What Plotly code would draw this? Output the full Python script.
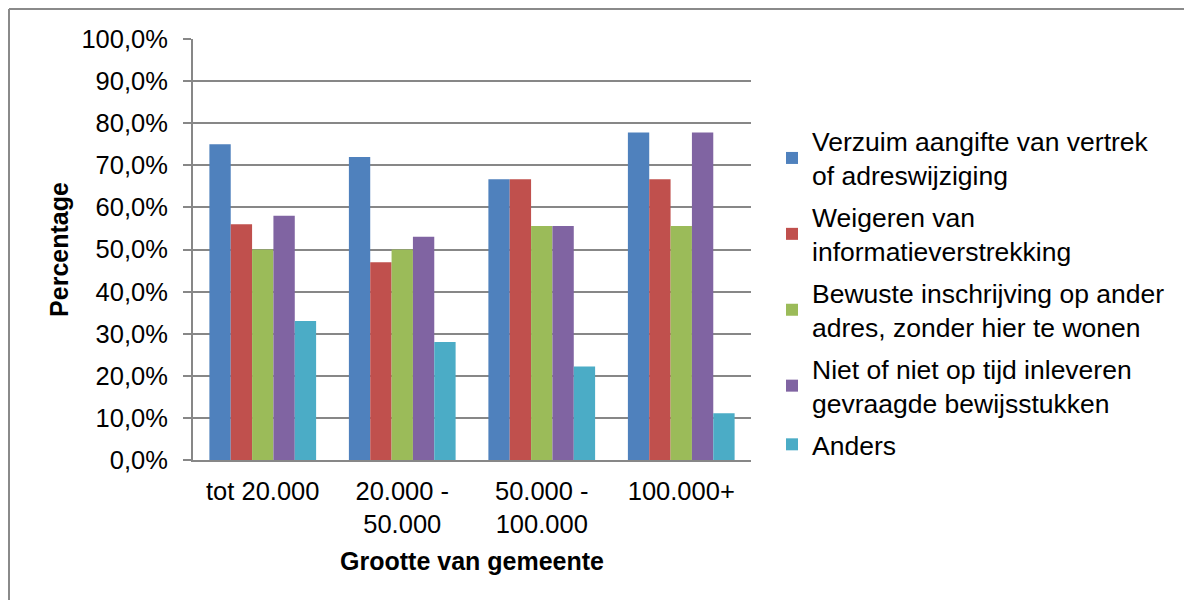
import plotly.graph_objects as go

categories = ["tot 20.000", "20.000 -<br>50.000", "50.000 -<br>100.000", "100.000+"]
series_names = [
    "Verzuim aangifte van vertrek<br>of adreswijziging",
    "Weigeren van<br>informatieverstrekking",
    "Bewuste inschrijving op ander<br>adres, zonder hier te wonen",
    "Niet of niet op tijd inleveren<br>gevraagde bewijsstukken",
    "Anders",
]
verzuim = [75.0, 72.0, 66.7, 77.8]
weigeren = [56.0, 47.0, 66.7, 66.7]
bewuste = [50.0, 50.0, 55.6, 55.6]
niet_tijd = [58.0, 53.0, 55.6, 77.8]
anders = [33.0, 28.0, 22.2, 11.1]
colors = ["#4F81BD", "#C0504D", "#9BBB59", "#8064A2", "#4BACC6"]

series_values = [verzuim, weigeren, bewuste, niet_tijd, anders]

FONT = "Liberation Sans, Arial, sans-serif"
GRID = "#878787"

fig = go.Figure()
for i, (name, vals, col) in enumerate(zip(series_names, series_values, colors)):
    fig.add_trace(go.Bar(x=categories, y=vals, name=name, marker_color=col,
                         marker_line_width=0, legendgroup=f"g{i}"))

# figure pixel coordinates (page body adds an 8px offset)
L, R, T, B = 185, 743, 31, 452
W, H = 1192, 600
pw, ph = R - L, B - T

fig.update_layout(
    width=W, height=H,
    margin=dict(l=L, r=W - R, t=T, b=H - B),
    paper_bgcolor="white", plot_bgcolor="white",
    font=dict(family=FONT, size=26, color="black"),
    barmode="group", bargap=0.235, bargroupgap=0,
    separators=", ",
    showlegend=True,
    legend=dict(x=(764 - L) / pw, xanchor="left", y=(B - 109) / ph, yanchor="top",
                font=dict(size=26.5), itemwidth=30, tracegroupgap=4,
                bgcolor="rgba(0,0,0,0)"),
    xaxis=dict(showgrid=False, showline=True, linecolor=GRID, linewidth=2,
               ticks="", tickfont=dict(size=25.5), ticklabelstandoff=7,
               title=dict(text="<b>Grootte van gemeente</b>", font=dict(size=25), standoff=16)),
    yaxis=dict(range=[0, 100], dtick=10, tickformat=".1f", ticksuffix="%",
               tickfont=dict(size=25.5),
               showgrid=True, gridcolor=GRID, gridwidth=2,
               showline=True, linecolor=GRID, linewidth=2,
               ticks="outside", ticklen=8, tickcolor=GRID, tickwidth=2,
               ticklabelstandoff=10, zeroline=False,
               title=dict(text="<b>Percentage</b>", font=dict(size=25), standoff=6)),
)

# outer chart border (left and top edges visible)
bx = (1 - L) / pw
by = (B - 1) / ph
fig.add_shape(type="line", xref="paper", yref="paper", x0=bx, x1=bx, y0=by, y1=-2,
              line=dict(color="#8a8a8a", width=2))
fig.add_shape(type="line", xref="paper", yref="paper", x0=bx, x1=3, y0=by, y1=by,
              line=dict(color="#8a8a8a", width=2))

fig.write_html("out.html")
